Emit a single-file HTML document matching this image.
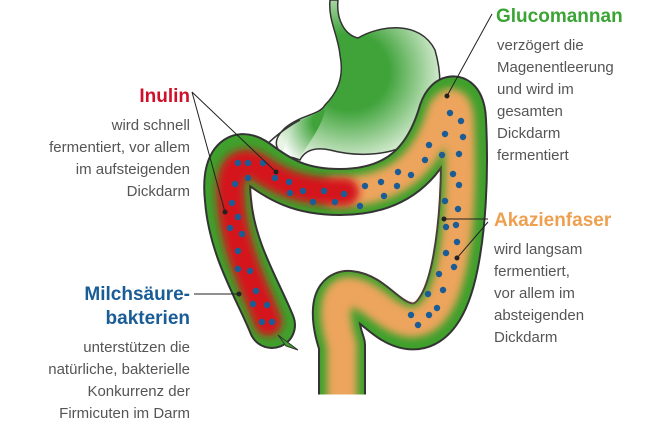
<!DOCTYPE html>
<html><head><meta charset="utf-8"><style>
html,body{margin:0;padding:0;background:#fff;width:650px;height:430px;overflow:hidden}
svg{display:block}
text{font-family:"Liberation Sans",sans-serif}
.b{font-size:15px;fill:#555}
.h{font-size:19px;font-weight:bold}
</style></head><body>
<svg width="650" height="430" viewBox="0 0 650 430">
<defs>
<filter id="bl" x="-20%" y="-20%" width="140%" height="140%"><feGaussianBlur stdDeviation="4"/></filter>
<radialGradient id="st" cx="0.45" cy="0.45" r="0.6">
<stop offset="0.4" stop-color="#3fa33a"/><stop offset="1" stop-color="#e8f4e4"/></radialGradient>
<radialGradient id="st2" cx="0.9" cy="0.3" r="1">
<stop offset="0.2" stop-color="#3fa33a"/><stop offset="1" stop-color="#ffffff"/></radialGradient>
<clipPath id="cp"><rect x="0" y="0" width="650" height="395"/></clipPath>
</defs>
<!-- stomach -->
<path d="M338,0 C336,20 345,35 358,38 C380,25 420,20 435,50 C445,85 440,120 415,140 C395,155 360,158 330,150 C315,147 305,150 300,160 L285,155 C275,150 272,140 285,128 C300,115 320,115 325,105 C335,95 345,80 340,55 C338,35 328,20 330,0 Z" fill="url(#st)" stroke="#333" stroke-width="1.5"/>
<path d="M290,128 C300,118 318,116 326,106 C322,128 310,140 300,158 L282,155 Z" fill="url(#st2)"/>
<path d="M262,150 C270,140 285,128 300,120" fill="none" stroke="#333" stroke-width="1.5"/>
<!-- colon -->
<g fill="none" stroke-linecap="round" stroke-linejoin="round" clip-path="url(#cp)">
<path d="M272,325 C258,290 232,250 228,200 C224,165 236,148 256,162 C280,180 300,192 340,192 C400,192 428,160 442,112 C448,94 462,94 463,120 C466,180 462,230 455,265 C447,305 432,330 408,326 C385,322 372,296 350,294 C330,292 335,325 342,345 L342,420" stroke="#333" stroke-width="48"/>
<path d="M272,325 C258,290 232,250 228,200 C224,165 236,148 256,162 C280,180 300,192 340,192 C400,192 428,160 442,112 C448,94 462,94 463,120 C466,180 462,230 455,265 C447,305 432,330 408,326 C385,322 372,296 350,294 C330,292 335,325 342,345 L342,420" stroke="#3fa02c" stroke-width="44"/>
<path d="M336,192 C400,192 428,160 442,112 C448,100 458,100 459,120 C462,180 459,230 452,265 C444,303 430,325 408,322 C385,318 372,294 350,292 C330,290 335,325 342,345 L342,420" stroke="#eda45c" stroke-width="30" filter="url(#bl)"/>
<path d="M268,322 C256,290 234,250 231,200 C228,170 238,158 256,166 C280,182 300,192 345,192" stroke="#d4141c" stroke-width="28" filter="url(#bl)"/>
</g>
<line x1="318" y1="395" x2="366" y2="395" stroke="#fff" stroke-width="1"/>
<path d="M278,335 L298,350 L286,346 Z" fill="#3fa02c" stroke="#333" stroke-width="1"/>
<!-- dots -->
<g fill="#1a5c96">
<circle cx="238" cy="163" r="3.2"/><circle cx="248" cy="163" r="3.2"/><circle cx="263" cy="163" r="3.2"/><circle cx="235" cy="184" r="3.2"/><circle cx="248" cy="178" r="3.2"/><circle cx="275" cy="178" r="3.2"/><circle cx="289" cy="182" r="3.2"/><circle cx="290" cy="193" r="3.2"/><circle cx="303" cy="191" r="3.2"/><circle cx="324" cy="191" r="3.2"/><circle cx="313" cy="202" r="3.2"/><circle cx="232" cy="203" r="3.2"/><circle cx="238" cy="217" r="3.2"/><circle cx="230" cy="228" r="3.2"/><circle cx="242" cy="234" r="3.2"/><circle cx="238" cy="251" r="3.2"/><circle cx="238" cy="269" r="3.2"/><circle cx="250" cy="271" r="3.2"/><circle cx="256" cy="291" r="3.2"/><circle cx="253" cy="304" r="3.2"/><circle cx="267" cy="305" r="3.2"/><circle cx="262" cy="322" r="3.2"/><circle cx="272" cy="322" r="3.2"/>
<circle cx="335" cy="202" r="3.2"/><circle cx="344" cy="194" r="3.2"/><circle cx="360" cy="206" r="3.2"/><circle cx="365" cy="186" r="3.2"/><circle cx="381" cy="182" r="3.2"/><circle cx="398" cy="172" r="3.2"/><circle cx="384" cy="196" r="3.2"/><circle cx="411" cy="175" r="3.2"/><circle cx="397" cy="186" r="3.2"/><circle cx="425" cy="160" r="3.2"/><circle cx="429" cy="145" r="3.2"/><circle cx="442" cy="155" r="3.2"/><circle cx="459" cy="154" r="3.2"/><circle cx="450" cy="113" r="3.2"/><circle cx="461" cy="121" r="3.2"/><circle cx="445" cy="134" r="3.2"/><circle cx="463" cy="137" r="3.2"/><circle cx="453" cy="174" r="3.2"/><circle cx="459" cy="185" r="3.2"/><circle cx="445" cy="201" r="3.2"/><circle cx="458" cy="209" r="3.2"/><circle cx="446" cy="227" r="3.2"/><circle cx="456" cy="225" r="3.2"/><circle cx="457" cy="242" r="3.2"/><circle cx="446" cy="253" r="3.2"/><circle cx="454" cy="267" r="3.2"/><circle cx="439" cy="274" r="3.2"/><circle cx="428" cy="294" r="3.2"/><circle cx="443" cy="290" r="3.2"/><circle cx="437" cy="308" r="3.2"/><circle cx="429" cy="315" r="3.2"/><circle cx="411" cy="315" r="3.2"/><circle cx="418" cy="325" r="3.2"/>
</g>
<!-- leader lines -->
<g stroke="#222" stroke-width="1" fill="#222">
<line x1="192" y1="92" x2="225" y2="212"/><line x1="192" y1="92" x2="276" y2="172"/>
<circle cx="225" cy="212" r="2"/><circle cx="276" cy="172" r="2"/>
<line x1="492" y1="14" x2="447" y2="96"/><circle cx="447" cy="96" r="2"/>
<line x1="488" y1="219" x2="444" y2="219"/><circle cx="444" cy="219" r="2"/>
<line x1="488" y1="222" x2="457" y2="258"/><circle cx="457" cy="258" r="2"/>
<line x1="194" y1="294" x2="239" y2="294"/><circle cx="239" cy="294" r="2"/>
</g>
<!-- text -->
<text x="190" y="102" text-anchor="end" class="h" fill="#d0102a">Inulin</text>
<g class="b" text-anchor="end">
<text x="190" y="130">wird schnell</text><text x="190" y="152">fermentiert, vor allem</text><text x="190" y="174">im aufsteigenden</text><text x="190" y="196">Dickdarm</text>
</g>
<text x="190" y="300" text-anchor="end" class="h" fill="#1a5c96">Milchsäure-</text>
<text x="190" y="324" text-anchor="end" class="h" fill="#1a5c96">bakterien</text>
<g class="b" text-anchor="end">
<text x="190" y="352">unterstützen die</text><text x="190" y="374">natürliche, bakterielle</text><text x="190" y="396">Konkurrenz der</text><text x="190" y="418">Firmicuten im Darm</text>
</g>
<text x="496" y="22" class="h" fill="#3aa435">Glucomannan</text>
<g class="b">
<text x="497" y="50">verzögert die</text><text x="497" y="72">Magenentleerung</text><text x="497" y="94">und wird im</text><text x="497" y="116">gesamten</text><text x="497" y="138">Dickdarm</text><text x="497" y="160">fermentiert</text>
</g>
<text x="494" y="226" class="h" fill="#eda050">Akazienfaser</text>
<g class="b">
<text x="494" y="254">wird langsam</text><text x="494" y="276">fermentiert,</text><text x="494" y="298">vor allem im</text><text x="494" y="320">absteigenden</text><text x="494" y="342">Dickdarm</text>
</g>
</svg>
</body></html>
